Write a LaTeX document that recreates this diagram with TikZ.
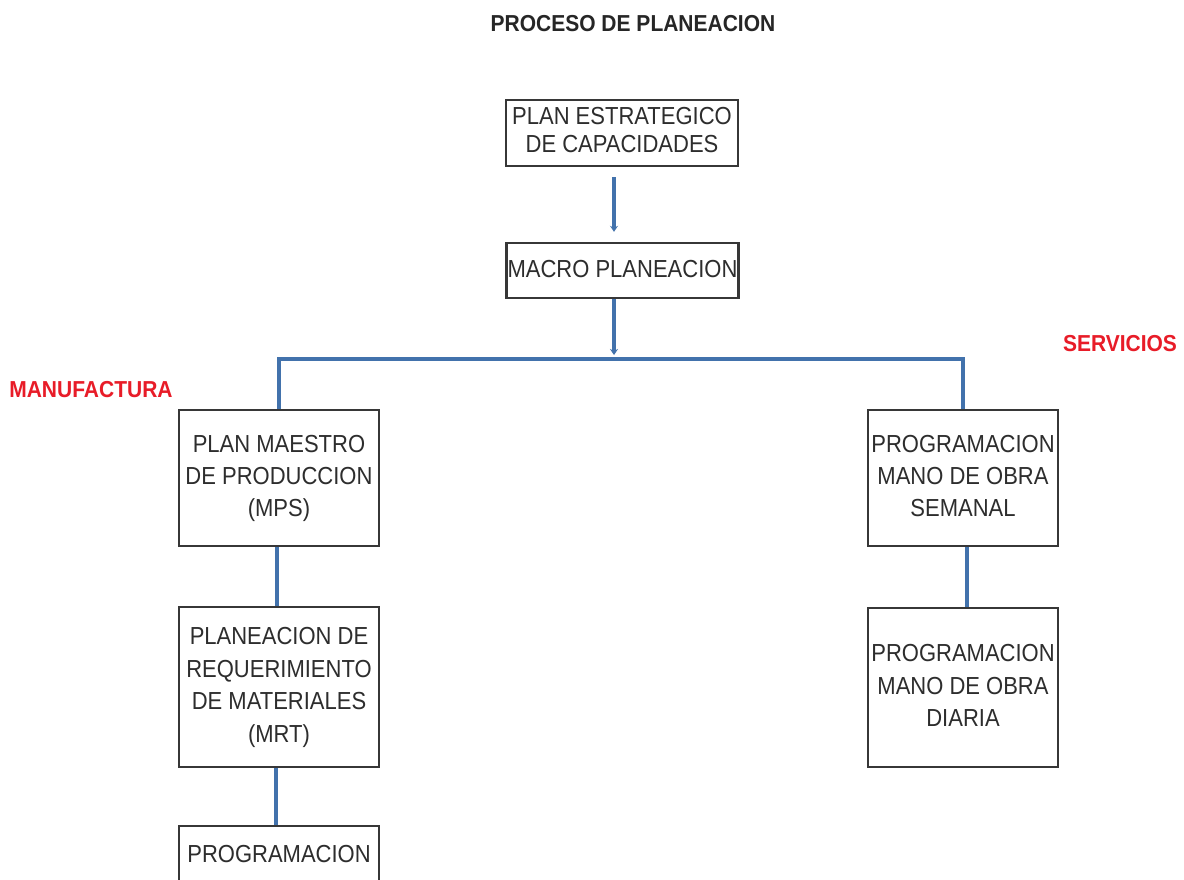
\documentclass[tikz,border=0pt]{standalone}
\usepackage{fontspec}
\usepackage{graphicx}
\setmainfont{Liberation Sans}
\usetikzlibrary{arrows.meta}
\definecolor{flowblue}{RGB}{66,114,172}
\definecolor{labelred}{RGB}{232,28,40}
\definecolor{boxline}{RGB}{55,55,55}
\definecolor{boxtext}{RGB}{45,45,45}
% box captions: centred lines, drawn slightly tall
\newcommand{\tallines}[1]{\scalebox{1}[1.12]{\begin{tabular}{@{}c@{}}#1\end{tabular}}}
\tikzset{
  stepbox/.style={draw=boxline, line width=2.4pt, fill=white, inner sep=0pt,
    align=center, text=boxtext, font=\fontsize{22}{29}\selectfont},
  conn/.style={draw=flowblue, line width=3.6pt,
    -{Stealth[length=6pt,width=8pt]}},
  link/.style={draw=flowblue, line width=3.6pt},
  sidelabel/.style={text=labelred, font=\bfseries\fontsize{21}{25}\selectfont},
  heading/.style={text=black!85, font=\bfseries\fontsize{21}{25}\selectfont}
}
\begin{document}
\begin{tikzpicture}[x=1pt,y=-1pt]
  \clip (0,0) rectangle (1184,879);
  \fill[white] (0,0) rectangle (1184,879);

  % title and branch labels
  \node[heading] (title) at (633,24) {\scalebox{1}[1.1]{PROCESO DE PLANEACION}};
  \node[sidelabel] (manu) at (91,390) {\scalebox{1}[1.1]{MANUFACTURA}};
  \node[sidelabel] (serv) at (1120,344) {\scalebox{1}[1.1]{SERVICIOS}};

  % top of the chain
  \node[stepbox, minimum width=232pt, minimum height=66pt,
        font=\fontsize{22}{25}\selectfont] (cap) at (622,133)
        {\tallines{PLAN ESTRATEGICO\\DE CAPACIDADES}};
  \node[stepbox, minimum width=232pt, minimum height=55pt] (macro) at (622.5,270.5)
        {\tallines{MACRO PLANEACION}};

  % manufacturing branch
  \node[stepbox, minimum width=200pt, minimum height=136pt] (mps) at (279,478)
        {\tallines{PLAN MAESTRO\\DE PRODUCCION\\(MPS)}};
  \node[stepbox, minimum width=200pt, minimum height=160pt] (mrt) at (279,687)
        {\tallines{PLANEACION DE\\REQUERIMIENTO\\DE MATERIALES\\(MRT)}};
  \node[stepbox, minimum width=200pt, minimum height=60pt] (prog) at (279,856)
        {\tallines{PROGRAMACION}};

  % services branch
  \node[stepbox, minimum width=190pt, minimum height=136pt] (sem) at (963,478)
        {\tallines{PROGRAMACION\\MANO DE OBRA\\SEMANAL}};
  \node[stepbox, minimum width=190pt, minimum height=159pt] (dia) at (963,687.5)
        {\tallines{PROGRAMACION\\MANO DE OBRA\\DIARIA}};

  % connectors
  \coordinate (split) at (614,359);
  \draw[conn, shorten <=10pt, shorten >=10pt] (cap.south -| split) -- (macro.north -| split);
  \draw[conn, shorten >=4pt] (macro.south -| split) -- (split);
  \draw[link] (split) -| (mps.north);
  \draw[link] (split) -| (sem.north);
  \draw[link] (mps.south -| 277,0) -- (mrt.north -| 277,0);
  \draw[link] (mrt.south -| 276,0) -- (prog.north -| 276,0);
  \draw[link] (sem.south -| 967,0) -- (dia.north -| 967,0);
\end{tikzpicture}
\end{document}
